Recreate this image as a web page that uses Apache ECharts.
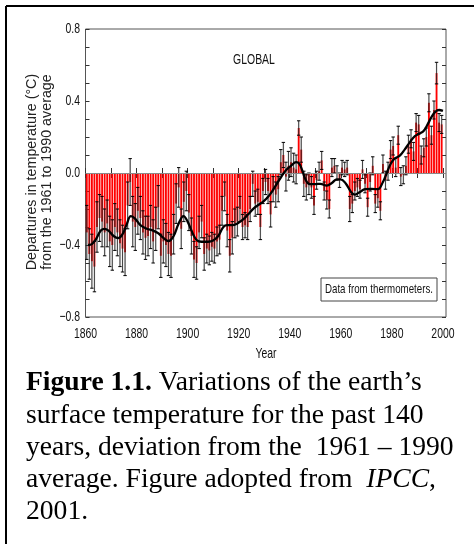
<!DOCTYPE html>
<html><head><meta charset="utf-8">
<script src="https://cdn.jsdelivr.net/npm/echarts@6/dist/echarts.min.js"></script>
<style>html,body{margin:0;padding:0;background:#fff}#c{width:474px;height:544px}</style>
</head><body><div id="c"></div>
<script>
const years = [1861,1862,1863,1864,1865,1866,1867,1868,1869,1870,
1871,1872,1873,1874,1875,1876,1877,1878,1879,1880,
1881,1882,1883,1884,1885,1886,1887,1888,1889,1890,
1891,1892,1893,1894,1895,1896,1897,1898,1899,1900,
1901,1902,1903,1904,1905,1906,1907,1908,1909,1910,
1911,1912,1913,1914,1915,1916,1917,1918,1919,1920,
1921,1922,1923,1924,1925,1926,1927,1928,1929,1930,
1931,1932,1933,1934,1935,1936,1937,1938,1939,1940,
1941,1942,1943,1944,1945,1946,1947,1948,1949,1950,
1951,1952,1953,1954,1955,1956,1957,1958,1959,1960,
1961,1962,1963,1964,1965,1966,1967,1968,1969,1970,
1971,1972,1973,1974,1975,1976,1977,1978,1979,1980,
1981,1982,1983,1984,1985,1986,1987,1988,1989,1990,
1991,1992,1993,1994,1995,1996,1997,1998,1999,2000];
const anomalies = [-0.33,-0.45,-0.49,-0.52,-0.30,-0.25,-0.27,-0.33,-0.28,-0.38,
-0.40,-0.30,-0.33,-0.39,-0.42,-0.44,-0.18,-0.05,-0.27,-0.30,
-0.21,-0.25,-0.33,-0.36,-0.35,-0.30,-0.38,-0.31,-0.19,-0.46,
-0.38,-0.40,-0.45,-0.46,-0.34,-0.17,-0.08,-0.31,-0.16,-0.10,
-0.22,-0.35,-0.48,-0.50,-0.33,-0.27,-0.45,-0.42,-0.43,-0.41,
-0.42,-0.38,-0.37,-0.21,-0.13,-0.32,-0.46,-0.36,-0.28,-0.27,
-0.20,-0.30,-0.29,-0.30,-0.20,-0.06,-0.17,-0.16,-0.30,-0.10,
-0.05,-0.10,-0.23,-0.09,-0.12,-0.09,0.06,0.10,-0.02,0.04,
0.06,0.03,0.02,0.25,0.13,-0.06,-0.08,-0.06,-0.08,-0.18,
-0.04,0.01,0.07,-0.10,-0.15,-0.20,0.03,0.04,0.00,-0.04,
0.03,0.02,0.03,-0.20,-0.17,-0.10,-0.08,-0.09,0.02,-0.06,
-0.19,-0.05,0.04,-0.17,-0.14,-0.21,0.05,-0.04,0.01,0.13,
0.15,0.03,0.21,-0.02,-0.01,0.04,0.16,0.19,0.12,0.28,
0.27,0.10,0.14,0.20,0.39,0.21,0.35,0.555,0.28,0.27];
const errors = [0.15,0.14,0.15,0.14,0.14,0.13,0.14,0.13,0.13,0.14,
0.14,0.13,0.13,0.13,0.13,0.13,0.13,0.13,0.14,0.13,
0.13,0.12,0.12,0.12,0.11,0.12,0.12,0.12,0.12,0.12,
0.12,0.12,0.12,0.12,0.11,0.11,0.11,0.11,0.11,0.11,
0.10,0.10,0.10,0.09,0.09,0.09,0.09,0.08,0.08,0.08,
0.08,0.08,0.08,0.08,0.08,0.09,0.09,0.09,0.08,0.08,
0.07,0.07,0.07,0.07,0.07,0.07,0.07,0.07,0.07,0.07,
0.07,0.07,0.07,0.07,0.07,0.07,0.07,0.07,0.08,0.08,
0.08,0.08,0.08,0.04,0.07,0.07,0.07,0.06,0.06,0.05,
0.05,0.05,0.05,0.05,0.05,0.05,0.05,0.04,0.04,0.04,
0.04,0.04,0.04,0.07,0.05,0.05,0.05,0.05,0.05,0.05,
0.05,0.05,0.05,0.05,0.05,0.05,0.05,0.05,0.05,0.05,
0.05,0.05,0.05,0.05,0.05,0.05,0.05,0.05,0.05,0.05,
0.05,0.05,0.05,0.05,0.05,0.05,0.05,0.06,0.05,0.05];
const smoothYears = [1861.0,1862.5,1864.0,1866.0,1867.5,1869.0,1871.0,1872.8,1874.5,1876.0,1877.8,1879.5,1881.5,1884.0,1886.5,1888.5,1890.5,1892.5,1894.5,1896.5,1898.4,1900.0,1901.5,1903.5,1905.5,1908.0,1910.0,1912.0,1914.0,1915.5,1917.5,1919.5,1922.0,1924.0,1926.0,1928.0,1929.5,1931.0,1932.5,1934.5,1936.5,1938.5,1940.5,1942.5,1943.8,1945.0,1946.3,1947.8,1950.0,1952.0,1954.5,1956.5,1958.5,1960.0,1962.0,1964.0,1965.5,1967.5,1969.5,1972.0,1974.5,1976.5,1978.0,1979.5,1981.0,1983.0,1985.0,1987.0,1989.0,1991.0,1992.5,1994.0,1995.5,1997.0,1998.5,2000.0];
const smoothValues = [-0.40,-0.395,-0.37,-0.32,-0.31,-0.32,-0.35,-0.362,-0.34,-0.29,-0.24,-0.255,-0.29,-0.31,-0.32,-0.335,-0.36,-0.378,-0.35,-0.28,-0.24,-0.27,-0.32,-0.372,-0.382,-0.382,-0.375,-0.35,-0.30,-0.29,-0.29,-0.28,-0.255,-0.225,-0.195,-0.175,-0.16,-0.14,-0.115,-0.07,-0.025,0.015,0.04,0.06,0.05,0.01,-0.04,-0.062,-0.062,-0.06,-0.07,-0.055,-0.035,-0.035,-0.06,-0.105,-0.12,-0.105,-0.09,-0.088,-0.09,-0.05,0.00,0.05,0.08,0.095,0.13,0.17,0.205,0.22,0.235,0.27,0.31,0.34,0.35,0.345];
const xTickValues = [1860,1870,1880,1890,1900,1910,1920,1930,1940,1950,1960,1970,1980,1990,2000];
const xLabelValues = [1860,1880,1900,1920,1940,1960,1980,2000];
const yTickValues = [-0.8,-0.7,-0.6,-0.5,-0.4,-0.3,-0.2,-0.1,0,0.1,0.2,0.3,0.4,0.5,0.6,0.7,0.8];
const yLabelValues = [-0.8,-0.4,0,0.4,0.8];

const sans = '"Liberation Sans",Arial,sans-serif';
const serif = '"Liberation Serif","Times New Roman",serif';
const NARROW = 0.72;
const chart = echarts.init(document.getElementById('c'), null, {renderer: 'canvas'});

const barData = years.map((y, i) => [y, anomalies[i], errors[i]]);
const curveData = smoothYears.map((y, i) => [y, smoothValues[i]]);

function renderBar(params, api) {
  const yr = api.value(0), v = api.value(1), e = api.value(2);
  const p0 = api.coord([yr - 1, 0]);
  const p1 = api.coord([yr, v]);
  const x0 = p0[0] + 0.35, x1 = p1[0] - 0.35;
  const xc = (p0[0] + p1[0]) / 2;
  const lo = api.coord([yr - 0.5, v - e])[1];
  const hi = api.coord([yr - 0.5, v + e])[1];
  return {
    type: 'group',
    children: [
      {type: 'rect', shape: {x: x0, y: Math.min(p0[1], p1[1]), width: x1 - x0, height: Math.abs(p1[1] - p0[1])},
       style: {fill: '#ff0000'}},
      {type: 'rect', shape: {x: x0 + 0.2, y: hi, width: x1 - x0 - 0.4, height: lo - hi},
       style: {fill: 'rgba(70,70,70,0.30)'}},
      {type: 'line', shape: {x1: xc, y1: hi, x2: xc, y2: lo}, style: {stroke: '#222', lineWidth: 0.8}},
      {type: 'line', shape: {x1: xc - 1.7, y1: hi, x2: xc + 1.7, y2: hi}, style: {stroke: '#000', lineWidth: 1}},
      {type: 'line', shape: {x1: xc - 1.7, y1: lo, x2: xc + 1.7, y2: lo}, style: {stroke: '#000', lineWidth: 1}}
    ]
  };
}

function narrowText(x, y, text, align, size) {
  return {type: 'text', x: x, y: y, scaleX: NARROW, z: 11,
    style: {text: text, font: (size || 14.5) + 'px ' + sans, fill: '#111', align: align || 'center', verticalAlign: 'middle'}};
}

const tickStyle = {color: '#333', width: 1};
const baseGraphic = [
  {type: 'line', shape: {x1: 6, y1: 6, x2: 474, y2: 6}, style: {stroke: '#000', lineWidth: 2}},
  {type: 'line', shape: {x1: 6, y1: 6, x2: 6, y2: 544}, style: {stroke: '#000', lineWidth: 2}},
  {type: 'text', x: 32.5, y: 172, rotation: Math.PI / 2,
   style: {text: 'Departures in temperature (\u00B0C)', font: '14.3px ' + sans, fill: '#222', align: 'center', verticalAlign: 'middle'}},
  {type: 'text', x: 47.5, y: 172, rotation: Math.PI / 2,
   style: {text: 'from the 1961 to 1990 average', font: '14.3px ' + sans, fill: '#222', align: 'center', verticalAlign: 'middle'}},
  narrowText(254, 60, 'GLOBAL'),
  {type: 'rect', shape: {x: 321, y: 278, width: 116, height: 23}, style: {fill: '#fff', stroke: '#444', lineWidth: 1}, z: 10},
  narrowText(379, 289.5, 'Data from thermometers.', 'center', 13.5),
  narrowText(266, 353.5, 'Year'),
  {type: 'text', x: 26, y: 367,
   style: {text: '{b|Figure 1.1.} Variations of the earth\u2019s\nsurface temperature for the past 140\nyears, deviation from the  1961 \u2013 1990\naverage. Figure adopted from  {i|IPCC},\n2001.',
     fontFamily: serif, fontSize: 27.6, lineHeight: 32.2, fill: '#000', verticalAlign: 'top',
     rich: {b: {fontFamily: serif, fontSize: 27.6, fontWeight: 'bold', lineHeight: 32.2},
            i: {fontFamily: serif, fontSize: 27.6, fontStyle: 'italic', lineHeight: 32.2}}}}
];

const option = {
  animation: false,
  backgroundColor: '#fff',
  grid: {left: 85.5, top: 29, width: 360.5, height: 288, show: true, borderColor: '#555', borderWidth: 1, backgroundColor: 'transparent'},
  xAxis: [
    {type: 'value', min: 1860, max: 2001.2, position: 'bottom', axisLine: {show: false}, splitLine: {show: false},
     axisTick: {inside: true, length: 5, customValues: xTickValues, lineStyle: tickStyle},
     axisLabel: {show: false}},
    {type: 'value', min: 1860, max: 2001.2, position: 'top', axisLine: {show: false}, splitLine: {show: false},
     axisTick: {inside: true, length: 5, customValues: xTickValues, lineStyle: tickStyle},
     axisLabel: {show: false}}
  ],
  yAxis: [
    {type: 'value', min: -0.8, max: 0.8, interval: 0.4, position: 'left', axisLine: {show: false}, splitLine: {show: false},
     axisTick: {inside: true, length: 4, customValues: yTickValues, lineStyle: tickStyle},
     axisLabel: {show: false}},
    {type: 'value', min: -0.8, max: 0.8, interval: 0.4, position: 'right', axisLine: {show: false}, splitLine: {show: false},
     axisTick: {inside: true, length: 4, customValues: yTickValues, lineStyle: tickStyle},
     axisLabel: {show: false}}
  ],
  series: [
    {type: 'custom', name: 'annual', xAxisIndex: 0, yAxisIndex: 0, clip: true, renderItem: renderBar,
     encode: {x: 0, y: 1}, data: barData, z: 2},
    {type: 'line', name: 'smoothed', xAxisIndex: 0, yAxisIndex: 0, data: curveData, smooth: 0.4, showSymbol: false,
     lineStyle: {color: '#000', width: 2.3}, z: 5,
     markLine: {silent: true, symbol: ['none', 'none'], label: {show: false}, animation: false,
       lineStyle: {color: '#8a8a8a', type: 'solid', width: 1}, data: [{yAxis: 0}], z: 3}}
  ],
  graphic: baseGraphic
};
chart.setOption(option);

// tick labels positioned through the axes' own scales, drawn condensed like the original
const labelGraphic = [];
xLabelValues.forEach(v => {
  const px = chart.convertToPixel({xAxisIndex: 0}, v);
  labelGraphic.push(narrowText(px, 334, String(v)));
});
yLabelValues.forEach(v => {
  const py = chart.convertToPixel({yAxisIndex: 0}, v);
  labelGraphic.push(narrowText(80, py, (v < 0 ? '\u2212' : '') + Math.abs(v).toFixed(1), 'right'));
});
chart.setOption({graphic: baseGraphic.concat(labelGraphic)});
</script>
</body></html>
